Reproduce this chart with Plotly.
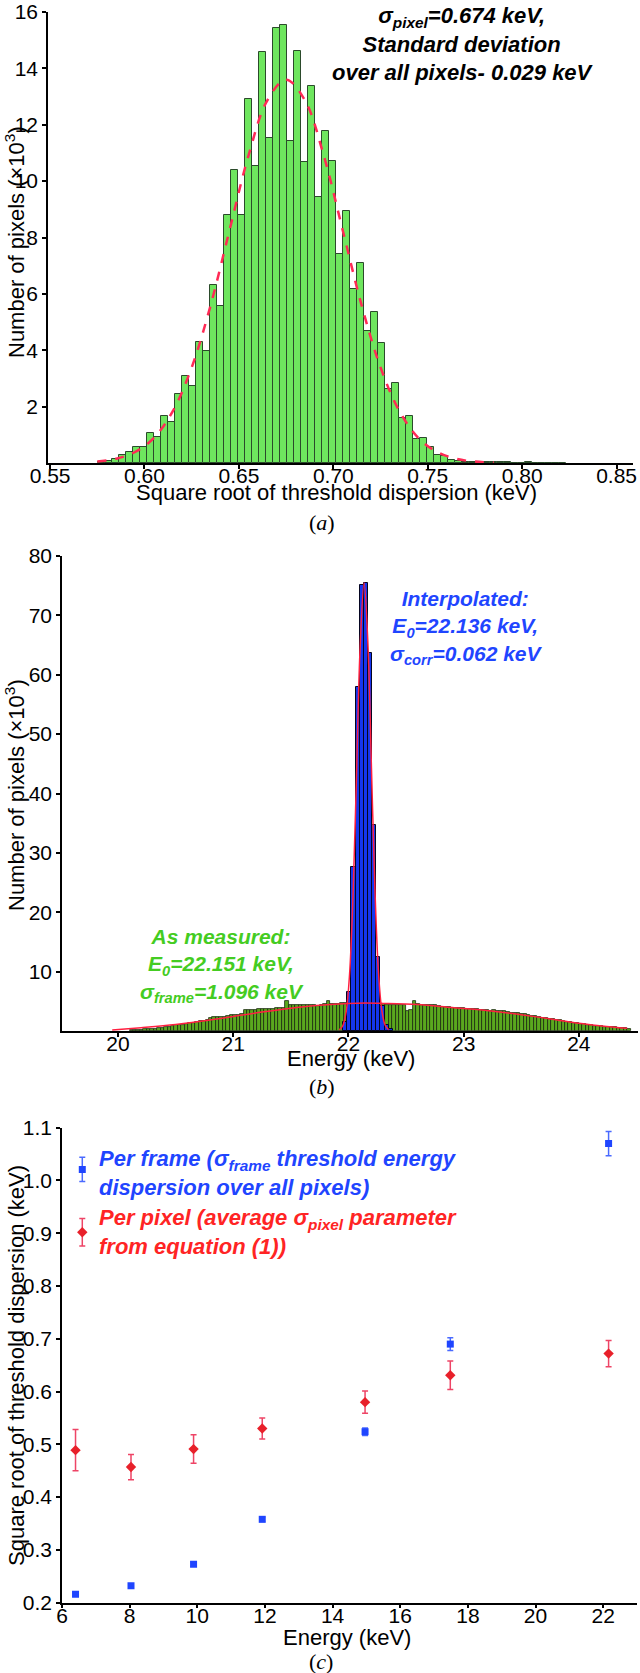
import plotly.graph_objects as go

W, H = 640, 1673

# ---------------- Panel (a) data ----------------
a_bin = 0.0037
a_first_center = 0.5774
a_counts = [0.03, 0.08, 0.15, 0.28, 0.40, 0.58,
            0.56, 1.06, 0.91, 1.65, 1.45, 2.46, 3.07, 2.72, 4.31, 3.98,
            6.31, 5.56, 8.81, 10.39, 8.81, 12.92, 10.53, 14.58, 11.52, 15.42,
            15.55, 11.43, 14.60, 10.67, 13.36, 9.45, 11.78, 10.70, 7.43, 8.93,
            6.18, 7.11, 4.68, 5.36, 4.25, 2.62, 2.84, 1.59, 1.65, 0.85,
            0.89, 0.57, 0.28, 0.25, 0.09, 0.07, 0.05, 0.04, 0.03, 0.03,
            0.02, 0.02, 0.02, 0.01, 0.01, 0.02, 0.01, 0.01, 0.00, 0.01, 0.01]
a_centers = [round(a_first_center + i * a_bin, 5) for i in range(len(a_counts))]

a_fit_x = [0.575, 0.585, 0.595, 0.605, 0.615, 0.625, 0.635, 0.645, 0.655, 0.665,
           0.675, 0.685, 0.695, 0.705, 0.715, 0.725, 0.735, 0.745, 0.755, 0.765,
           0.775, 0.785]
a_fit_y = [0.05, 0.15, 0.39, 0.89, 1.84, 3.39, 5.59, 8.25, 10.89, 12.86,
           13.6, 12.86, 10.89, 8.25, 5.59, 3.39, 1.84, 0.89, 0.39, 0.15,
           0.05, 0.02]
a_xticks = [0.55, 0.60, 0.65, 0.70, 0.75, 0.80, 0.85]
a_yticks = [2, 4, 6, 8, 10, 12, 14, 16]

# ---------------- Panel (b) data ----------------
b_green_bin = 0.03
b_green_first = 20.115
b_green = [0.12, 0.15, 0.20, 0.25, 0.30, 0.34, 0.36, 0.42, 0.45, 0.50,
           0.70, 0.74, 0.78, 0.95, 1.00, 1.05, 1.20, 1.30, 1.32, 1.50,
           1.72, 1.76, 1.80, 2.20, 2.30, 2.28, 2.35, 2.40, 2.60, 2.70,
           2.72, 2.75, 2.80, 3.50, 3.55, 3.60, 3.62, 3.65, 3.70, 3.70,
           3.75, 3.72, 3.80, 3.85, 3.90, 5.10, 4.30, 4.35, 4.40, 4.40,
           4.42, 4.45, 4.45, 4.40, 4.20, 4.45, 4.50, 5.00, 4.50, 4.50,
           4.60, 4.70, 4.80, 4.75, 4.70, 4.80, 4.75, 4.80, 4.75, 4.70,
           4.70, 4.65, 4.60, 4.50, 4.45, 4.45, 4.40, 4.45, 4.40, 4.30,
           3.30, 3.60, 5.00, 4.60, 4.40, 4.40, 4.35, 4.30, 4.30, 4.20,
           4.05, 4.00, 4.00, 3.95, 3.90, 3.85, 3.80, 3.75, 3.70, 3.72,
           3.65, 3.60, 3.55, 3.50, 3.45, 3.50, 3.45, 3.30, 3.35, 3.20,
           3.10, 3.00, 2.95, 2.85, 2.80, 2.70, 2.60, 2.50, 2.30, 2.20,
           2.15, 2.00, 1.95, 1.90, 1.80, 1.70, 1.60, 1.50, 1.40, 1.30,
           1.15, 1.10, 1.05, 1.00, 0.90, 0.85, 0.80, 0.75, 0.70, 0.65,
           0.60, 0.55, 0.50, 0.45, 0.40]
b_green_centers = [round(b_green_first + i * b_green_bin, 4) for i in range(len(b_green))]

b_blue_bin = 0.036
b_blue_centers = [21.972, 22.008, 22.044, 22.080, 22.116, 22.152, 22.188,
                  22.224, 22.260, 22.296, 22.332, 22.368]
b_blue = [1.5, 6.5, 27.6, 58.0, 75.2, 75.4, 63.6, 34.7, 12.4, 4.2, 1.0, 0.3]

b_fit_narrow_x = [21.92, 21.95, 21.98, 22.01, 22.04, 22.07, 22.10, 22.136,
                  22.17, 22.20, 22.23, 22.26, 22.29, 22.32, 22.35]
b_fit_narrow_y = [0.18, 0.84, 3.19, 9.56, 22.8, 42.8, 63.8, 75.5,
                  64.9, 44.3, 23.9, 10.2, 3.45, 0.93, 0.2]
b_fit_broad_x = [19.95, 20.2, 20.5, 20.8, 21.0, 21.25, 21.5, 21.75, 22.0, 22.15,
                 22.3, 22.6, 22.9, 23.2, 23.5, 23.8, 24.0, 24.2, 24.42]
b_fit_broad_y = [0.15, 0.55, 1.1, 1.85, 2.45, 3.2, 3.85, 4.35, 4.65, 4.7,
                 4.65, 4.45, 3.95, 3.45, 2.75, 1.9, 1.3, 0.85, 0.45]
b_xticks = [20, 21, 22, 23, 24]
b_yticks = [10, 20, 30, 40, 50, 60, 70, 80]

# ---------------- Panel (c) data ----------------
c_energy = [6.40, 8.04, 9.89, 11.92, 14.96, 17.48, 22.16]
c_frame = [0.216, 0.232, 0.273, 0.358, 0.524, 0.690, 1.070]
c_frame_err = [0.003, 0.003, 0.004, 0.004, 0.007, 0.012, 0.023]
c_pixel = [0.489, 0.457, 0.491, 0.530, 0.580, 0.631, 0.672]
c_pixel_err = [0.039, 0.024, 0.027, 0.020, 0.021, 0.027, 0.025]
c_legend_x = [6.6]
c_legend_frame = [1.021]
c_legend_frame_err = [0.023]
c_legend_pixel = [0.902]
c_legend_pixel_err = [0.026]
c_xticks = [6, 8, 10, 12, 14, 16, 18, 20, 22]
c_yticks = [0.2, 0.3, 0.4, 0.5, 0.6, 0.7, 0.8, 0.9, 1.0, 1.1]

FONT = "Liberation Sans, Arial, sans-serif"
SERIF = "Liberation Serif, Times New Roman, serif"
BLUE = "#1f45ff"
RED = "#ff2424"
GREEN_TXT = "#44cc22"

fig = go.Figure()

# panel a
fig.add_trace(go.Bar(x=a_centers, y=a_counts, width=a_bin,
                     marker=dict(color="#6ee65e", line=dict(color="#2b4a2b", width=1)),
                     xaxis="x", yaxis="y", showlegend=False))
fig.add_trace(go.Scatter(x=a_fit_x, y=a_fit_y, mode="lines", line_shape="spline",
                         line=dict(color="#ff2a55", width=2.5, dash="dash"),
                         xaxis="x", yaxis="y", showlegend=False))

# panel b
fig.add_trace(go.Bar(x=b_green_centers, y=b_green, width=b_green_bin,
                     marker=dict(color="#5aa81e", line=dict(color="#1a2a10", width=0.8)),
                     xaxis="x2", yaxis="y2", showlegend=False))
fig.add_trace(go.Bar(x=b_blue_centers, y=b_blue, width=b_blue_bin,
                     marker=dict(color="#1536f0", line=dict(color="#050520", width=1)),
                     xaxis="x2", yaxis="y2", showlegend=False))
fig.add_trace(go.Scatter(x=b_fit_broad_x, y=b_fit_broad_y, mode="lines", line_shape="spline",
                         line=dict(color="#ff2040", width=1.5),
                         xaxis="x2", yaxis="y2", showlegend=False))
fig.add_trace(go.Scatter(x=b_fit_narrow_x, y=b_fit_narrow_y, mode="lines", line_shape="spline",
                         line=dict(color="#ff2040", width=1.5),
                         xaxis="x2", yaxis="y2", showlegend=False))

# panel c
fig.add_trace(go.Scatter(x=c_energy, y=c_frame, mode="markers",
                         marker=dict(symbol="square", size=7, color=BLUE),
                         error_y=dict(type="data", array=c_frame_err, color="#4a6aff", thickness=1.5, width=3),
                         xaxis="x3", yaxis="y3", showlegend=False))
fig.add_trace(go.Scatter(x=c_energy, y=c_pixel, mode="markers",
                         marker=dict(symbol="diamond", size=8, color="#e8202a"),
                         error_y=dict(type="data", array=c_pixel_err, color="#ee4466", thickness=1.5, width=3),
                         xaxis="x3", yaxis="y3", showlegend=False))
fig.add_trace(go.Scatter(x=c_legend_x, y=c_legend_frame, mode="markers",
                         marker=dict(symbol="square", size=7, color=BLUE),
                         error_y=dict(type="data", array=c_legend_frame_err, color="#4a6aff", thickness=1.5, width=3),
                         xaxis="x3", yaxis="y3", showlegend=False))
fig.add_trace(go.Scatter(x=c_legend_x, y=c_legend_pixel, mode="markers",
                         marker=dict(symbol="diamond", size=8, color="#e8202a"),
                         error_y=dict(type="data", array=c_legend_pixel_err, color="#ee4466", thickness=1.5, width=3),
                         xaxis="x3", yaxis="y3", showlegend=False))


def px(x):
    return x / W


def py(y):
    return 1 - y / H


axis_common = dict(showline=True, linecolor="black", linewidth=1.5, showgrid=False,
                   zeroline=False, ticks="outside", ticklen=4, tickwidth=1.5,
                   tickcolor="black", automargin=False, ticklabeloverflow="allow",
                   tickfont=dict(family=FONT, size=21, color="black"))
xstand = dict(ticklabelstandoff=-11)

fig.update_layout(
    width=W, height=H, margin=dict(l=0, r=0, t=0, b=0, autoexpand=False),
    paper_bgcolor="white", plot_bgcolor="white", bargap=0, barmode="overlay",
    xaxis=dict(domain=[px(48), px(633)], range=[0.5489, 0.8587], anchor="y",
               tickvals=a_xticks, ticktext=[f"{v:.2f}" for v in a_xticks],
               **axis_common, **xstand),
    yaxis=dict(domain=[py(463), py(12)], range=[0, 16], anchor="x",
               tickvals=a_yticks, **axis_common),
    xaxis2=dict(domain=[px(62), px(637.6)], range=[19.514, 24.51], anchor="y2",
                tickvals=b_xticks, **axis_common, **xstand),
    yaxis2=dict(domain=[py(1031), py(556)], range=[0, 80], anchor="x2",
                tickvals=b_yticks, **axis_common),
    xaxis3=dict(domain=[px(62), px(637)], range=[6, 23], anchor="y3",
                tickvals=c_xticks, **axis_common, **xstand),
    yaxis3=dict(domain=[py(1602.7), py(1127.7)], range=[0.2, 1.1], anchor="x3",
                tickvals=c_yticks, ticktext=[f"{v:.1f}" for v in c_yticks], **axis_common),
)

ann = []


def add_text(text, x, y, size=20, color="black", family=FONT, angle=0, align="center",
             xanchor="center"):
    ann.append(dict(text=text, x=px(x), y=py(y), xref="paper", yref="paper",
                    showarrow=False, font=dict(family=family, size=size, color=color),
                    textangle=angle, align=align, xanchor=xanchor, yanchor="middle"))


# panel a texts
add_text("Square root of threshold dispersion (keV)", 336, 492, size=22)
add_text("Number of pixels (×10<sup>3</sup>)", 15, 242, size=22, angle=-90)
add_text("(<i>a</i>)", 322, 522, size=22, family=SERIF)
add_text("<b><i>σ<sub>pixel</sub>=0.674 keV,<br>Standard deviation<br>over all pixels- 0.029 keV</i></b>",
         463, 44, size=22)

# panel b texts
add_text("Energy (keV)", 351, 1058, size=22)
add_text("Number of pixels (×10<sup>3</sup>)", 15, 795, size=22, angle=-90)
add_text("(<i>b</i>)", 322, 1086, size=22, family=SERIF)
add_text("<b><i>Interpolated:<br>E<sub>0</sub>=22.136 keV,<br>σ<sub>corr</sub>=0.062 keV</i></b>",
         466, 627, size=21, color=BLUE)
add_text("<b><i>As measured:<br>E<sub>0</sub>=22.151 keV,<br>σ<sub>frame</sub>=1.096 keV</i></b>",
         222, 966, size=21, color=GREEN_TXT)

# panel c texts
add_text("Energy (keV)", 347, 1637, size=22)
add_text("Square root of threshold dispersion (keV)", 16, 1366, size=22, angle=-90)
add_text("(<i>c</i>)", 321, 1661, size=22, family=SERIF)
add_text("<b><i>Per frame (σ<sub>frame</sub> threshold energy<br>dispersion over all pixels)</i></b>",
         97, 1173, size=22, color=BLUE, align="left", xanchor="left")
add_text("<b><i>Per pixel (average σ<sub>pixel</sub> parameter<br>from equation (1))</i></b>",
         97, 1232, size=22, color=RED, align="left", xanchor="left")

fig.update_layout(annotations=ann)
fig.write_html("out.html", config={"displayModeBar": False},
               post_script="document.body.style.margin='0px';document.body.style.padding='0px';")
